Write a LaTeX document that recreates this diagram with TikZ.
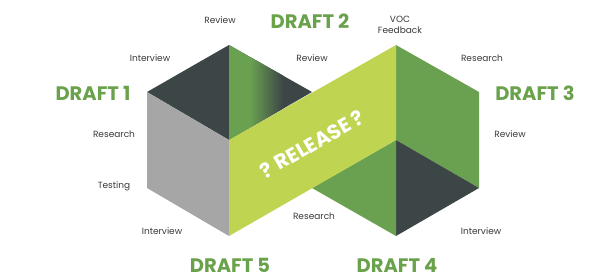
\documentclass[tikz,border=0pt]{standalone}
\usepackage{fontspec}
\setmainfont{Poppins}
\usepackage{tikz}
\usetikzlibrary{positioning}
\definecolor{hexdark}{HTML}{3D4646}
\definecolor{hexgreen}{HTML}{6AA150}
\definecolor{hexlime}{HTML}{BFD552}
\definecolor{hexgray}{HTML}{A6A6A6}
\definecolor{labeltext}{HTML}{3A3A3A}
\definecolor{drafttext}{HTML}{6AA14B}

\begin{document}
\begin{tikzpicture}[x=1pt, y=-1pt,
    step label/.style={font=\fontsize{9}{10.5}\selectfont, text=labeltext, align=center, inner sep=0pt},
    draft label/.style={font=\fontsize{19.5}{22}\selectfont\bfseries, text=drafttext, inner sep=0pt}]
    \useasboundingbox (0,0) rectangle (601,279);
    \fill[hexdark] (147,92) -- (229,45) -- (229,140) -- cycle;
    \fill[hexdark] (229,45) -- (312,92) -- (229,140) -- cycle;
    \begin{scope}
        \clip (229,45) -- (312,92) -- (229,140) -- cycle;
        \fill[hexgreen] (228,40) rectangle (251,145);
        \shade[left color=hexgreen, right color=hexdark] (250,40) rectangle (283,145);
    \end{scope}
    \fill[hexgray] (147,92) -- (229,140) -- (229,236) -- (147,188) -- cycle;
    \fill[hexgreen] (396,45) -- (479,92) -- (479,188) -- (396,140) -- cycle;
    \fill[hexdark] (396,140) -- (479,188) -- (396,236) -- cycle;
    \fill[hexgreen] (312,188) -- (396,140) -- (396,236) -- cycle;
    \fill[hexlime] (229,140) -- (396,45) -- (396,140) -- (229,236) -- cycle;
    \node[text=white, font=\fontsize{20.5}{22}\selectfont\bfseries, rotate=29.6] (release) at (312,144) {? RELEASE ?};
    \node[draft label] (draftone) at (93,93) {DRAFT 1};
    \node[draft label] (drafttwo) at (310,21) {DRAFT 2};
    \node[draft label] (draftthree) at (535,93) {DRAFT 3};
    \node[draft label] (draftfour) at (397,265) {DRAFT 4};
    \node[draft label] (draftfive) at (230,265) {DRAFT 5};
    \node[step label] (reviewtop) at (220,20) {Review};
    \node[step label] (interviewtop) at (150,58) {Interview};
    \node[step label] (reviewmid) at (312,58) {Review};
    \node[step label] (vocfeedback) at (400,25) {VOC\\Feedback};
    \node[step label] (researchtop) at (482,58) {Research};
    \node[step label] (researchleft) at (114,134) {Research};
    \node[step label] (testing) at (114,186) {Testing};
    \node[step label] (interviewleft) at (162,231) {Interview};
    \node[step label] (researchmid) at (314,216) {Research};
    \node[step label] (interviewright) at (481,231) {Interview};
    \node[step label] (reviewright) at (510,134) {Review};
\end{tikzpicture}
\end{document}
